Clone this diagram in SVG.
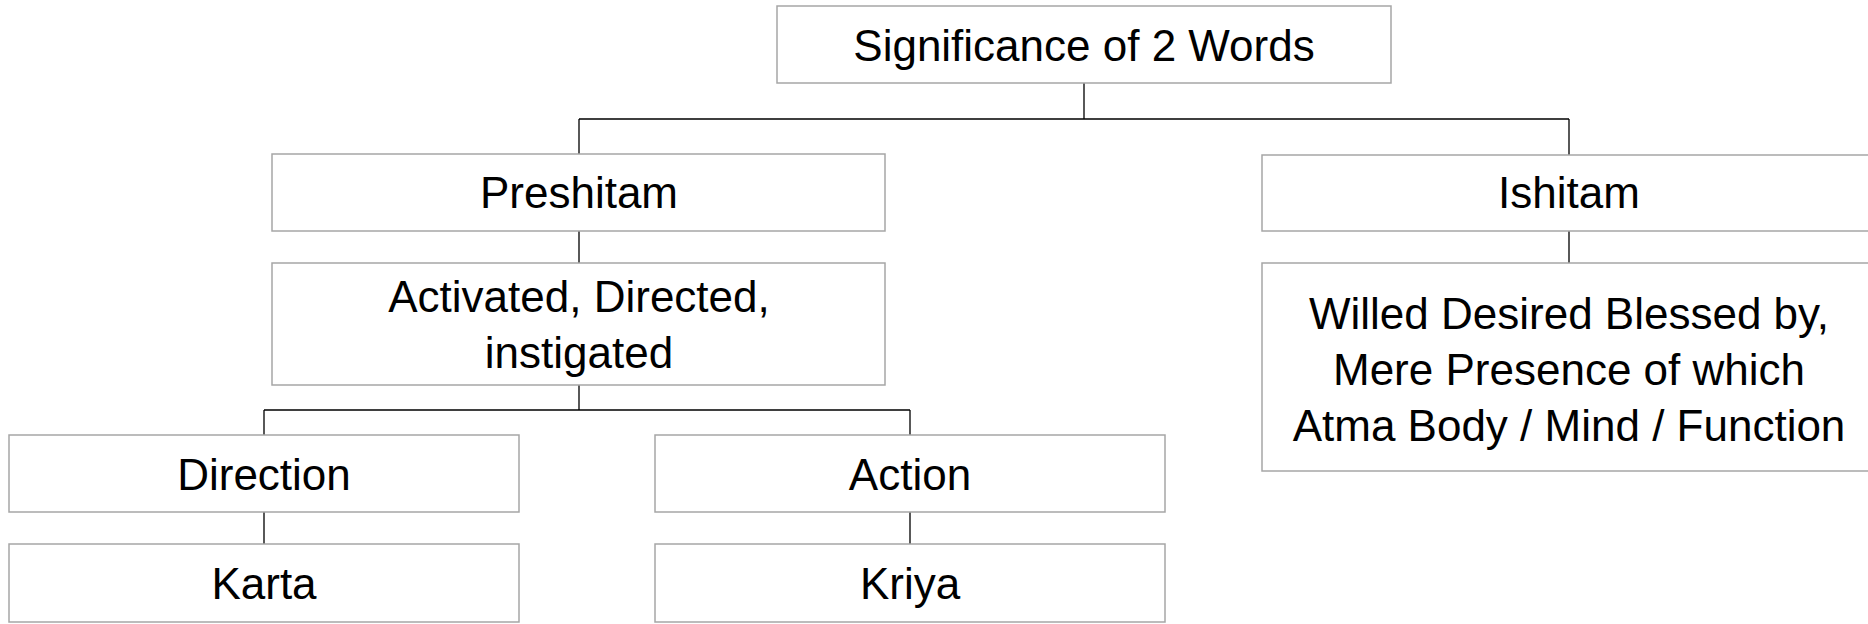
<svg xmlns="http://www.w3.org/2000/svg" width="1868" height="624" viewBox="0 0 1868 624">
<style>
.box{fill:#ffffff;stroke:#a6a6a6;stroke-width:1.5}
.t{font-family:"Liberation Sans",Arial,sans-serif;font-size:44px;fill:#000;text-anchor:middle}
.c{fill:none;stroke:#000;stroke-width:1.3}
</style>
<rect width="1868" height="624" fill="#fff"/>
<g id="connectors">
<path class="c" d="M1084,83 V119 M579,119 H1569 M579,119 V154 M1569,119 V155"/>
<path class="c" d="M579,231 V263 M1569,231 V263"/>
<path class="c" d="M579,385 V410 M264,410 H910 M264,410 V435 M910,410 V435"/>
<path class="c" d="M264,512 V544 M910,512 V544"/>
</g>
<g id="root"><rect class="box" x="777" y="6" width="614" height="77"/><text class="t" x="1084" y="61">Significance of 2 Words</text></g>
<g id="preshitam"><rect class="box" x="272" y="154" width="613" height="77"/><text class="t" x="579" y="208">Preshitam</text></g>
<g id="ishitam"><rect class="box" x="1262" y="155" width="620" height="76"/><text class="t" x="1569" y="208">Ishitam</text></g>
<g id="activated"><rect class="box" x="272" y="263" width="613" height="122"/><text class="t" x="579" y="312">Activated, Directed,</text><text class="t" x="579" y="368">instigated</text></g>
<g id="willed"><rect class="box" x="1262" y="263" width="620" height="208"/><text class="t" x="1569" y="329">Willed Desired Blessed by,</text><text class="t" x="1569" y="385">Mere Presence of which</text><text class="t" x="1569" y="441">Atma Body / Mind / Function</text></g>
<g id="direction"><rect class="box" x="9" y="435" width="510" height="77"/><text class="t" x="264" y="490">Direction</text></g>
<g id="action"><rect class="box" x="655" y="435" width="510" height="77"/><text class="t" x="910" y="490">Action</text></g>
<g id="karta"><rect class="box" x="9" y="544" width="510" height="78"/><text class="t" x="264" y="599">Karta</text></g>
<g id="kriya"><rect class="box" x="655" y="544" width="510" height="78"/><text class="t" x="910" y="599">Kriya</text></g>
</svg>
